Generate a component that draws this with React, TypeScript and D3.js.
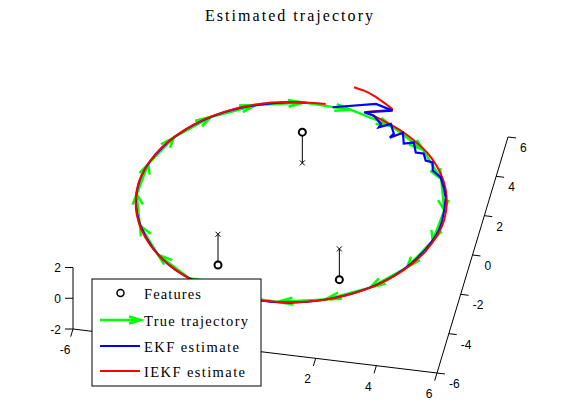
import React from 'react';
import * as d3 from 'd3';

// ---- axis ticks ----
const xTicks = [-6, -4, -2, 0, 2, 4, 6];
const yTicks = [-6, -4, -2, 0, 2, 4, 6];
const zTicks = [-2, 0, 2];

// ---- features (o at feature height, x at ground z = 0) ----
const featureX = [0, -2, 2];
const featureY = [2, -2, -2];
const featureZ = [2, -2, -2];
const featureBaseZ = [0, 0, 0];

// ---- true trajectory (quiver arrows, clockwise) ----
const trueX = [-4.33, -3.35, -2.03, -0.52, 1.04, 2.5, 3.72, 4.57, 4.97, 4.89, 4.33, 3.35, 2.03, 0.52, -1.04, -2.5, -3.72, -4.57, -4.97, -4.89, -4.33, -3.35, -2.03];
const trueY = [2.5, 3.72, 4.57, 4.97, 4.89, 4.33, 3.35, 2.03, 0.52, -1.04, -2.5, -3.72, -4.57, -4.97, -4.89, -4.33, -3.35, -2.03, -0.52, 1.04, 2.5, 3.72, 4.57];

// ---- EKF estimate ----
const ekfStartX = [0.43, 1.78, 2.37, 1.48, 1.82, 2.13, 2.09, 2.44, 2.63, 2.54, 2.91, 3.04, 3.35, 3.51, 3.77, 3.9, 4.14, 4.22, 4.54, 4.73, 4.89];
const ekfStartY = [4.91, 5.33, 5.1, 4.85, 4.74, 4.38, 4.2, 4.44, 3.98, 3.76, 4.08, 3.55, 3.66, 3.18, 3.18, 2.85, 2.8, 2.4, 2.11, 1.64, 1.16];
const ekfLoopX = [4.89, 4.99, 4.58, 3.77, 2.57, 1.13, -0.44, -1.95, -3.29, -4.27, -4.87, -4.99, -4.59, -3.77, -2.58, -1.12, -0.44];
const ekfLoopY = [1.16, -0.44, -1.95, -3.28, -4.28, -4.89, -4.98, -4.59, -3.78, -2.56, -1.12, 0.44, 1.95, 3.28, 4.29, 4.86, 4.98];

// ---- IEKF estimate ----
const iekfStartX = [0.92, 1.27, 1.64, 2.02, 2.37];
const iekfStartY = [6.02, 5.91, 5.72, 5.44, 5.15];
const iekfLoopX = [1.54, 2.96, 4.09, 4.81, 5.06, 4.78, 4.05, 2.94, 1.55, 0, -1.55, -2.94, -4.05, -4.76, -5.02, -4.76, -4.05, -2.95, -1.55, 0.18];
const iekfLoopY = [4.87, 4.07, 2.97, 1.56, 0, -1.55, -2.95, -4.05, -4.76, -5.0, -4.76, -4.05, -2.94, -1.55, 0, 1.55, 2.94, 4.06, 4.78, 5.03];

const legendLabels = ['Features', 'True trajectory', 'EKF estimate', 'IEKF estimate'];
const legendWidths = [57, 104, 95, 101];

// ---- projection built from d3 scales ----
const sx = d3.scaleLinear().domain([-6, 6]).range([0, 1]);
const sy = d3.scaleLinear().domain([-6, 6]).range([0, 1]);
const sz = d3.scaleLinear().domain([-2, 2]).range([0, 1]);
const ORIGIN: [number, number] = [73, 329];
const VX: [number, number] = [364, 44];
const VY: [number, number] = [71, -236];
const VZ: [number, number] = [0, -61.5];

function P(x: number, y: number, z: number): [number, number] {
  const a = sx(x), b = sy(y), c = sz(z);
  return [
    ORIGIN[0] + a * VX[0] + b * VY[0] + c * VZ[0],
    ORIGIN[1] + a * VX[1] + b * VY[1] + c * VZ[1],
  ];
}

const smooth = d3.line<[number, number]>().curve(d3.curveCatmullRom.alpha(0.5));
const straight = d3.line<[number, number]>();

function pts(xs: number[], ys: number[], z = 0): [number, number][] {
  return xs.map((x, i) => P(x, ys[i], z));
}

const GREEN = '#00ff00';
const BLUE = '#0000ff';
const RED = '#ff0000';
const TICKFONT = '"Liberation Sans", Arial, sans-serif';
const SERIF = '"Liberation Serif", "Times New Roman", serif';

function arrowPaths(xs: number[], ys: number[]): string[] {
  const out: string[] = [];
  const alpha = 0.33, beta = 0.33;
  for (let i = 0; i < xs.length - 1; i++) {
    const x = xs[i], y = ys[i];
    const u = xs[i + 1] - x, v = ys[i + 1] - y;
    const tip = P(x + u, y + v, 0);
    const h1 = P(x + u - alpha * (u + beta * v), y + v - alpha * (v - beta * u), 0);
    const h2 = P(x + u - alpha * (u - beta * v), y + v - alpha * (v + beta * u), 0);
    const s = P(x, y, 0);
    out.push(`M${s[0]},${s[1]}L${tip[0]},${tip[1]}M${h1[0]},${h1[1]}L${tip[0]},${tip[1]}L${h2[0]},${h2[1]}`);
  }
  return out;
}

const legX = 92, legY = 279, legW = 169, legH = 107;

function underLegend(px: number, py: number) {
  return px > legX - 6 && px < legX + legW + 6 && py > legY && py < legY + legH + 10;
}

export default function App() {
  const xAxisA = P(-6, -6, -2), xAxisB = P(6, -6, -2);
  const yAxisB = P(6, 6, -2);
  const zAxisB = P(-6, -6, 2);
  const tickLen = 8;
  const eyLen = Math.hypot(VY[0], VY[1]);
  const exLen = Math.hypot(VX[0], VX[1]);
  const outY: [number, number] = [-VY[0] / eyLen * tickLen, -VY[1] / eyLen * tickLen];
  const outX: [number, number] = [VX[0] / exLen * tickLen, VX[1] / exLen * tickLen];

  const arrows = arrowPaths(trueX, trueY);
  const ekfStart = pts(ekfStartX, ekfStartY);
  const ekfLoop = pts(ekfLoopX, ekfLoopY);
  const iekfStart = pts(iekfStartX, iekfStartY);
  const iekfLoop = pts(iekfLoopX, iekfLoopY);

  const rowY = [293, 320, 346, 371];

  return (
    <svg width={561} height={420} style={{ position: 'absolute', left: 0, top: 0, background: '#fff' }}>
      <rect x={0} y={0} width={561} height={420} fill="#fff" />
      {/* title */}
      <text x={289} y={21} textAnchor="middle" fontFamily={SERIF} fontSize={16} textLength={168} lengthAdjust="spacing" fill="#000">
        Estimated trajectory
      </text>

      {/* axes */}
      <g stroke="#000" strokeWidth={1} fill="none">
        <line x1={xAxisA[0]} y1={xAxisA[1]} x2={xAxisB[0]} y2={xAxisB[1]} />
        <line x1={xAxisB[0]} y1={xAxisB[1]} x2={yAxisB[0]} y2={yAxisB[1]} />
        <line x1={xAxisA[0]} y1={xAxisA[1]} x2={zAxisB[0]} y2={zAxisB[1]} />
        {xTicks.map((t) => {
          const p = P(t, -6, -2);
          return <line key={'xt' + t} x1={p[0]} y1={p[1]} x2={p[0] + outY[0]} y2={p[1] + outY[1]} />;
        })}
        {yTicks.map((t) => {
          const p = P(6, t, -2);
          return <line key={'yt' + t} x1={p[0]} y1={p[1]} x2={p[0] + outX[0]} y2={p[1] + outX[1]} />;
        })}
        {zTicks.map((t) => {
          const p = P(-6, -6, t);
          return <line key={'zt' + t} x1={p[0]} y1={p[1]} x2={p[0] - tickLen} y2={p[1]} />;
        })}
      </g>
      <g fontFamily={TICKFONT} fontSize={12} fill="#000">
        {xTicks.map((t) => {
          const p = P(t, -6, -2);
          const lx = p[0] - 8, ly = p[1] + 25;
          if (underLegend(lx, ly)) return null; // hidden behind the legend in the reference
          return <text key={'xl' + t} x={lx} y={ly} textAnchor="middle">{t}</text>;
        })}
        {yTicks.map((t) => {
          const p = P(6, t, -2);
          return <text key={'yl' + t} x={p[0] + 12} y={p[1] + 15} textAnchor="start">{t}</text>;
        })}
        {zTicks.map((t) => {
          const p = P(-6, -6, t);
          return <text key={'zl' + t} x={p[0] - 12} y={p[1] + 4.5} textAnchor="end">{t}</text>;
        })}
      </g>

      {/* features */}
      <g stroke="#000" fill="none">
        {featureX.map((fx, i) => {
          const top = P(fx, featureY[i], featureZ[i]);
          const base = P(fx, featureY[i], featureBaseZ[i]);
          return (
            <g key={'f' + i}>
              <line x1={top[0]} y1={top[1]} x2={base[0]} y2={base[1]} strokeWidth={1} />
              <path d={`M${base[0] - 2.5},${base[1] - 2.5}L${base[0] + 2.5},${base[1] + 2.5}M${base[0] - 2.5},${base[1] + 2.5}L${base[0] + 2.5},${base[1] - 2.5}`} strokeWidth={1} />
              <circle cx={top[0]} cy={top[1]} r={3.5} strokeWidth={2} fill="#fff" />
            </g>
          );
        })}
      </g>

      {/* true trajectory */}
      <g stroke={GREEN} strokeWidth={2.4} fill="none" strokeLinejoin="round">
        {arrows.map((d, i) => <path key={'a' + i} d={d} />)}
      </g>

      {/* EKF loop */}
      <path d={smooth(ekfLoop) || ''} stroke={BLUE} strokeWidth={2} fill="none" />
      {/* IEKF */}
      <path d={smooth(iekfStart) || ''} stroke={RED} strokeWidth={2} fill="none" />
      <path d={straight([iekfStart[iekfStart.length - 1], iekfLoop[0]]) || ''} stroke={RED} strokeWidth={2} fill="none" />
      <path d={smooth(iekfLoop) || ''} stroke={RED} strokeWidth={2} fill="none" />
      {/* EKF start zigzag */}
      <path d={straight(ekfStart) || ''} stroke={BLUE} strokeWidth={2.2} fill="none" strokeLinejoin="miter" />

      {/* legend */}
      <rect x={legX} y={legY} width={legW} height={legH} fill="#fff" stroke="#000" strokeWidth={1} />
      <circle cx={120.5} cy={rowY[0]} r={3.5} stroke="#000" strokeWidth={1.5} fill="none" />
      <g stroke={GREEN} strokeWidth={2.4} fill="none">
        <path d={`M100,${rowY[1]}L141,${rowY[1]}M129,${rowY[1] - 3.5}L141,${rowY[1]}L129,${rowY[1] + 3.5}`} />
      </g>
      <line x1={100} y1={rowY[2]} x2={140} y2={rowY[2]} stroke={BLUE} strokeWidth={2} />
      <line x1={100} y1={rowY[3]} x2={140} y2={rowY[3]} stroke={RED} strokeWidth={2} />
      <g fontFamily={SERIF} fontSize={14.5} fill="#000">
        {legendLabels.map((l, i) => (
          <text key={l} x={144} y={rowY[i] + 6} textLength={legendWidths[i]} lengthAdjust="spacing">{l}</text>
        ))}
      </g>
    </svg>
  );
}
